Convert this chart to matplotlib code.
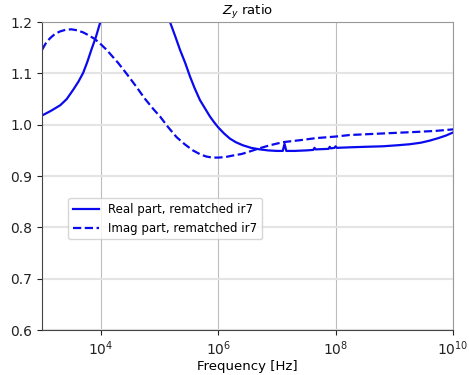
import numpy as np
import matplotlib
matplotlib.use('Agg')
import matplotlib.pyplot as plt

""" data """
# frequencies given as log10(f [Hz])
real_logf = [3.0, 3.15, 3.31, 3.42, 3.53, 3.62, 3.70, 3.77, 3.84, 3.92, 3.99, 4.1,
             4.3, 4.6, 4.9, 5.05, 5.18, 5.27, 5.35, 5.44, 5.52, 5.60, 5.69, 5.78,
             5.86, 5.93, 6.0, 6.1, 6.2, 6.3, 6.42, 6.56, 6.71, 6.85, 7.0, 7.10,
             7.13, 7.16, 7.3, 7.5, 7.62, 7.64, 7.66, 7.88, 7.90, 7.92, 7.98, 8.0,
             8.02, 8.24, 8.5, 8.8, 9.05, 9.26, 9.45, 9.6, 9.75, 9.88, 10.0]
real_ratio = [1.018, 1.027, 1.038, 1.050, 1.068, 1.084, 1.101, 1.122, 1.146, 1.172,
              1.199, 1.25, 1.36, 1.45, 1.36, 1.28, 1.20, 1.172, 1.146, 1.120, 1.094,
              1.071, 1.048, 1.031, 1.016, 1.005, 0.995, 0.983, 0.973, 0.966, 0.960,
              0.955, 0.952, 0.950, 0.949, 0.949, 0.963, 0.949, 0.949, 0.950, 0.951,
              0.955, 0.952, 0.953, 0.957, 0.954, 0.955, 0.958, 0.955, 0.956, 0.957,
              0.958, 0.960, 0.962, 0.965, 0.969, 0.974, 0.979, 0.985]

imag_logf = [3.0, 3.07, 3.14, 3.22, 3.31, 3.4, 3.5, 3.6, 3.7, 3.8, 3.9, 4.0, 4.1,
             4.2, 4.3, 4.45, 4.6, 4.75, 4.9, 5.01, 5.15, 5.29, 5.43, 5.57, 5.7, 5.8,
             5.9, 6.0, 6.12, 6.25, 6.4, 6.54, 6.7, 6.88, 7.1, 7.4, 7.67, 8.0, 8.24,
             8.8, 9.37, 9.7, 10.0]
imag_ratio = [1.146, 1.160, 1.169, 1.177, 1.182, 1.185, 1.186, 1.184, 1.180, 1.174,
              1.167, 1.157, 1.146, 1.133, 1.120, 1.098, 1.075, 1.051, 1.030, 1.016,
              0.995, 0.976, 0.962, 0.950, 0.942, 0.938, 0.936, 0.936, 0.937, 0.940,
              0.943, 0.948, 0.954, 0.960, 0.966, 0.970, 0.974, 0.977, 0.980, 0.983,
              0.986, 0.988, 0.991]

labels = ['Real part, rematched ir7', 'Imag part, rematched ir7']

""" plot """
fig = plt.figure(figsize=(4.69, 3.75), dpi=100)
ax = fig.add_axes([0.0896, 0.12, 0.8764, 0.821])

ax.plot(10**np.array(real_logf), real_ratio, color='#0a0aee', lw=1.6, label=labels[0])
ax.plot(10**np.array(imag_logf), imag_ratio, color='#0a0aee', lw=1.6, ls='--', label=labels[1])

ax.set_xscale('log')
ax.set_xlim(1e3, 1e10)
ax.set_ylim(0.6, 1.2)
ax.set_xticks([1e4, 1e6, 1e8, 1e10])
ax.set_yticks([0.6, 0.7, 0.8, 0.9, 1.0, 1.1, 1.2])
ax.minorticks_off()

# horizontal grid lighter and wider than vertical grid
ax.yaxis.grid(True, color='#e4e4e4', lw=1.5)
ax.xaxis.grid(True, color='#bdbdbd', lw=0.8)
ax.set_axisbelow(True)

for s in ['left', 'bottom']:
    ax.spines[s].set_color('#444444')
for s in ['top', 'right']:
    ax.spines[s].set_color('#999999')
ax.tick_params(colors='#222222', labelsize=10)

ax.set_title('$Z_y$ ratio', fontsize=9.5, pad=5)
ax.set_xlabel('Frequency [Hz]', fontsize=9.5, labelpad=1)
ax.legend(loc='upper left', bbox_to_anchor=(0.055, 0.44), fontsize=8.5,
          handlelength=2.2, borderaxespad=0.3)

plt.savefig('out.png', dpi=100)
